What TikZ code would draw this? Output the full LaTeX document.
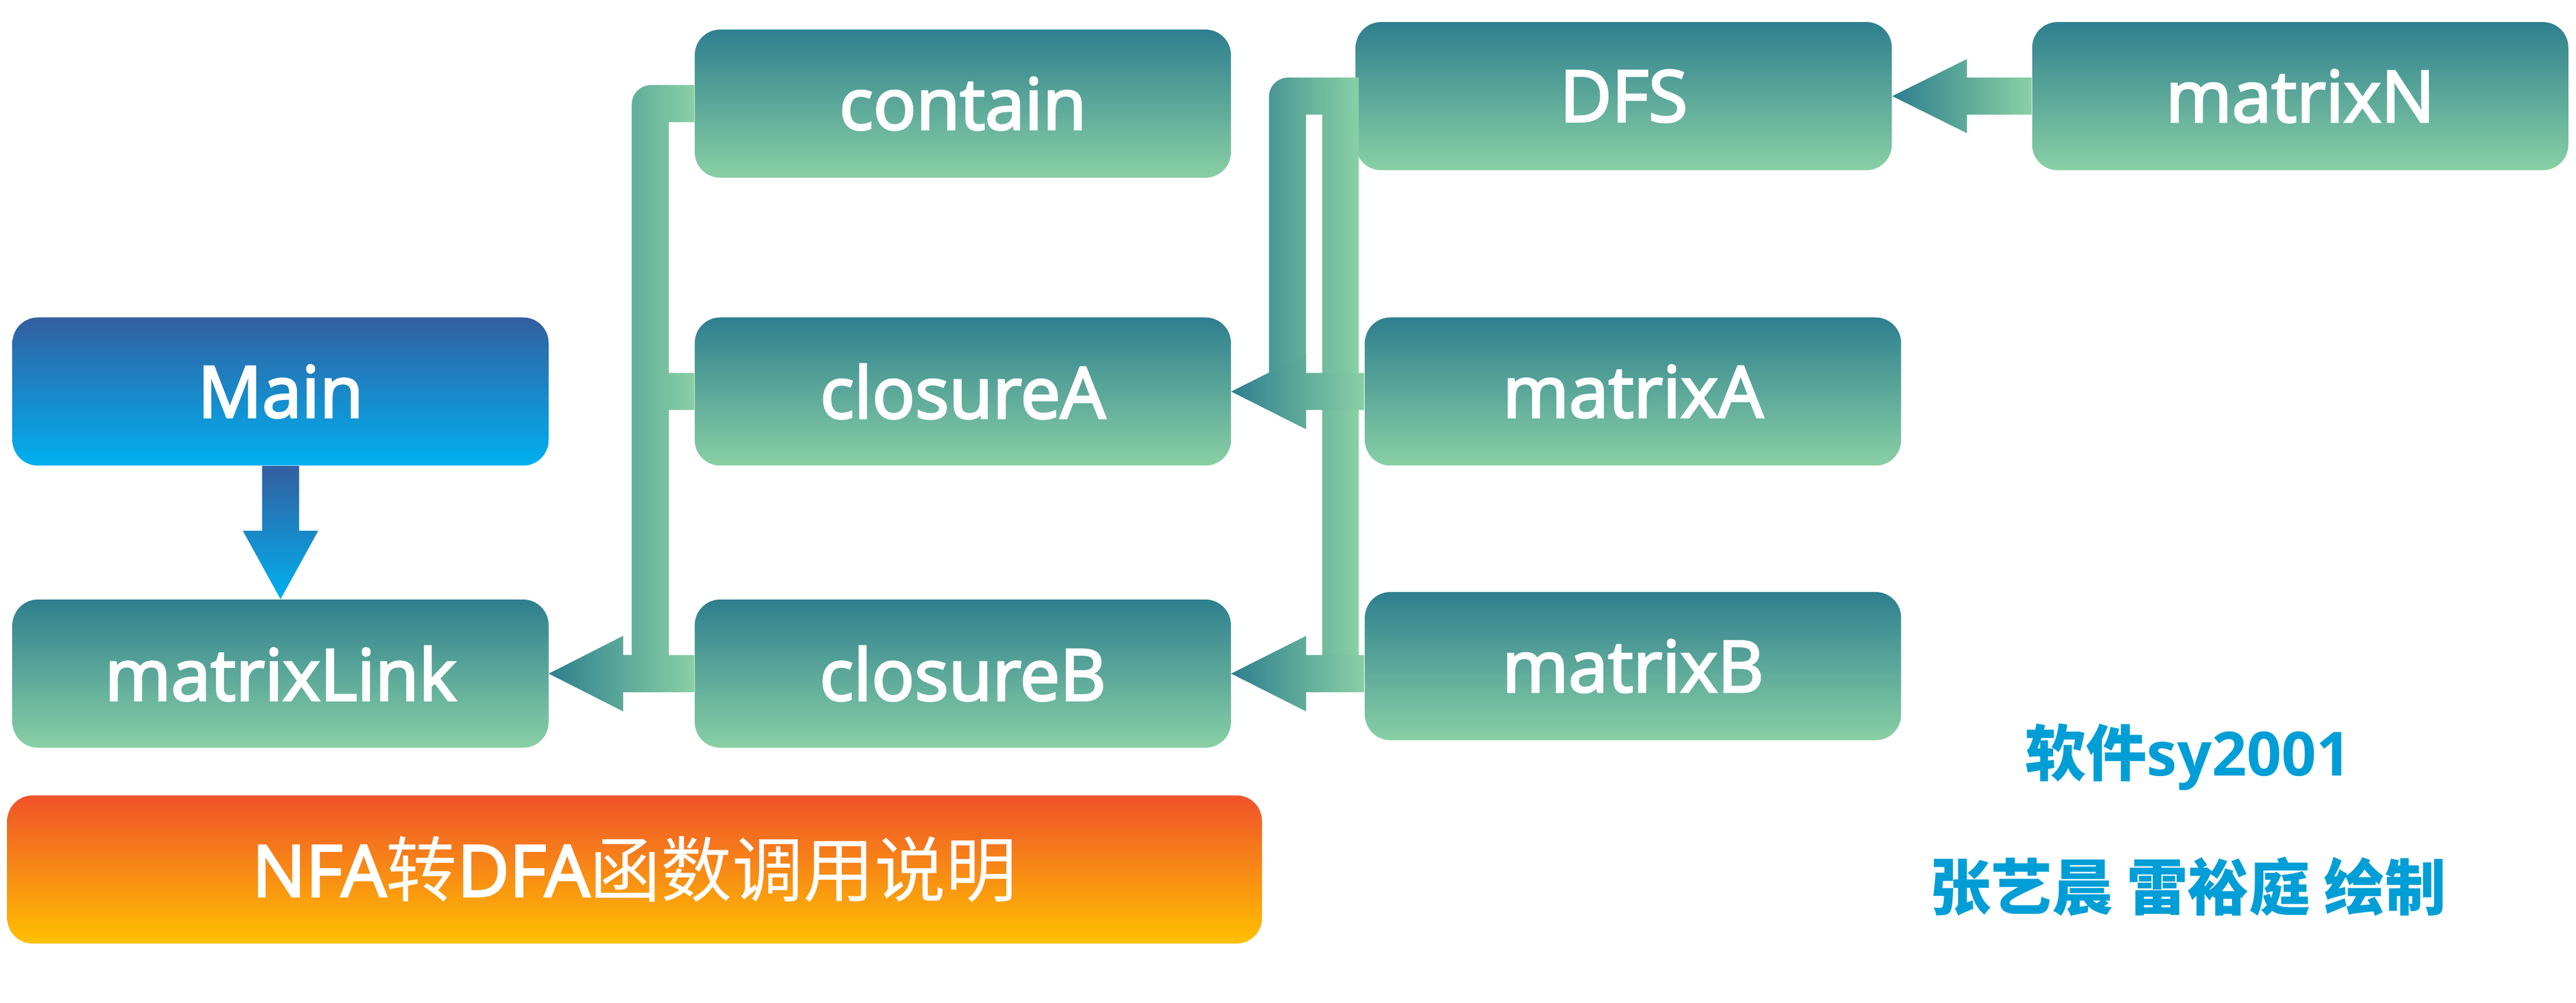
\documentclass[tikz,border=0pt]{standalone}
\usepackage{fontspec}
\setmainfont{Open Sans}
\newfontfamily\labelfont{Open Sans}[BoldFont={Open Sans}, BoldFeatures={FakeBold=3}]
\newfontfamily\cjk{Noto Sans CJK SC}
\usetikzlibrary{positioning}

\definecolor{tealtop}{RGB}{46,127,142}
\definecolor{tealbot}{RGB}{137,208,165}
\definecolor{maintop}{RGB}{51,95,160}
\definecolor{mainbot}{RGB}{0,176,240}
\definecolor{titletop}{RGB}{240,82,42}
\definecolor{titlebot}{RGB}{255,192,0}
\definecolor{creditblue}{RGB}{0,158,214}

\tikzset{
  func/.style={rectangle, rounded corners=4.4mm, minimum width=9.26cm, minimum height=2.56cm,
    inner sep=0pt, top color=tealtop, bottom color=tealbot, text=white,
    font=\labelfont\bfseries\fontsize{35}{42}\selectfont},
  mainfunc/.style={func, top color=maintop, bottom color=mainbot},
  caption/.style={func, minimum width=21.67cm, top color=titletop, bottom color=titlebot},
  credit/.style={text=creditblue, font=\fontsize{30}{36}\selectfont\bfseries},
  conn/.style={left color=tealtop, right color=tealbot}
}

\begin{document}
\begin{tikzpicture}[node distance=2.3cm]
    \fill[white] (0,0) rectangle (44.49,-17.33);
    \useasboundingbox (0,0) rectangle (44.49,-17.33);

    % functions
    \node[mainfunc] (Main) at (4.845,-6.765) {Main};
    \node[func] (matrixLink) [below=of Main] {matrixLink};
    \node[func] (closureA) [right=2.51cm of Main] {closureA};
    \node[func] (contain) [above=2.4cm of closureA] {contain};
    \node[func] (closureB) [below=of closureA] {closureB};
    \node[func] (matrixA) [right=of closureA] {matrixA};
    \node[func] (matrixB) [below=2.17cm of matrixA] {matrixB};
    \node[func] (DFS) [above=2.53cm of matrixA, xshift=-1.6mm] {DFS};
    \node[func] (matrixN) [right=2.41cm of DFS] {matrixN};

    \node[caption, anchor=north west] (title) at ([xshift=-0.9mm, yshift=-8.1mm]matrixLink.south west)
      {NFA{\cjk\mdseries 转}DFA{\cjk\mdseries 函数调用说明}};
    \node[credit] (course) at (37.79,-13.08) {{\cjk 软件}sy2001};
    \node[credit] (authors) at (37.79,-15.32) {{\cjk 张艺晨 雷裕庭 绘制}};

    % Main calls matrixLink
    \coordinate (mhead) at ([yshift=11.8mm]matrixLink.north);
    \shade[top color=maintop, bottom color=mainbot]
      ([xshift=-3.2mm]Main.south) -- ([xshift=-3.2mm]mhead) -- ([xshift=-6.5mm]mhead)
      -- (matrixLink.north) -- ([xshift=6.5mm]mhead) -- ([xshift=3.2mm]mhead)
      -- ([xshift=3.2mm]Main.south) -- cycle;

    % left bracket into matrixLink
    \coordinate (lbarL) at ([xshift=14.3mm]matrixLink.east);
    \coordinate (lbarR) at ([xshift=20.7mm]matrixLink.east);
    \coordinate (lhead) at ([xshift=12.8mm]matrixLink.east);
    \coordinate (lup) at ([yshift=3.2mm]matrixLink.east);
    \coordinate (ldown) at ([yshift=-3.2mm]matrixLink.east);
    \coordinate (cup) at ([yshift=3.2mm]contain.west);
    \coordinate (cdown) at ([yshift=-3.2mm]contain.west);
    \coordinate (aup) at ([yshift=3.2mm]closureA.west);
    \coordinate (adown) at ([yshift=-3.2mm]closureA.west);

    \shade[conn] (cup) [rounded corners=3.3mm] -- (lbarL |- cup) [sharp corners] -- (lbarL |- lup)
      -- (lhead |- lup) -- ([yshift=6.5mm]lhead) -- (matrixLink.east) -- ([yshift=-6.5mm]lhead)
      -- (lhead |- ldown) -- (lbarR |- ldown) -- (lbarR |- cdown) -- (cdown) -- cycle;
    \shade[conn] (aup) [rounded corners=3.3mm] -- (lbarL |- aup) [sharp corners] -- (lbarL |- lup)
      -- (lhead |- lup) -- ([yshift=6.5mm]lhead) -- (matrixLink.east) -- ([yshift=-6.5mm]lhead)
      -- (lhead |- ldown) -- (lbarR |- ldown) -- (lbarR |- adown) -- (adown) -- cycle;
    \shade[conn] (closureB.west |- lup) -- (lhead |- lup) -- ([yshift=6.5mm]lhead) -- (matrixLink.east)
      -- ([yshift=-6.5mm]lhead) -- (lhead |- ldown) -- (closureB.west |- ldown) -- cycle;

    % right bracket from DFS
    \coordinate (dup) at ([yshift=3.2mm]DFS.west);
    \coordinate (ddown) at ([yshift=-3.2mm]DFS.west);
    \coordinate (abar) at ([xshift=6.5mm]closureA.east);
    \coordinate (ahead) at ([xshift=12.9mm]closureA.east);
    \coordinate (raup) at ([yshift=3.2mm]closureA.east);
    \coordinate (radown) at ([yshift=-3.2mm]closureA.east);
    \coordinate (bbarL) at ([xshift=-5.7mm]DFS.west);
    \coordinate (bbarR) at ([xshift=0.6mm]DFS.west);
    \coordinate (bhead) at ([xshift=12.9mm]closureB.east);
    \coordinate (bup) at ([yshift=3.2mm]closureB.east);
    \coordinate (bdown) at ([yshift=-3.2mm]closureB.east);

    \shade[conn] (dup) [rounded corners=3.3mm] -- (abar |- dup) [sharp corners] -- (abar |- raup)
      -- (closureA.east) -- ([yshift=-6.5mm]ahead) -- (ahead |- ddown) -- (ddown) -- cycle;
    \shade[conn] (dup) [rounded corners=3.3mm] -- (bbarL |- dup) [sharp corners] -- (bbarL |- bup)
      -- (bhead |- bup) -- ([yshift=6.5mm]bhead) -- (closureB.east) -- ([yshift=-6.5mm]bhead)
      -- (bhead |- bdown) -- (bbarR |- bdown) -- (bbarR |- dup) -- cycle;
    \shade[conn] (matrixA.west |- raup) -- (ahead |- raup) -- ([yshift=6.5mm]ahead) -- (closureA.east)
      -- ([yshift=-6.5mm]ahead) -- (ahead |- radown) -- (matrixA.west |- radown) -- cycle;
    \shade[conn] (matrixB.west |- bup) -- (bhead |- bup) -- ([yshift=6.5mm]bhead) -- (closureB.east)
      -- ([yshift=-6.5mm]bhead) -- (bhead |- bdown) -- (matrixB.west |- bdown) -- cycle;

    % matrixN calls DFS
    \coordinate (nhead) at ([xshift=12.9mm]DFS.east);
    \coordinate (nup) at ([yshift=3.2mm]DFS.east);
    \coordinate (ndown) at ([yshift=-3.2mm]DFS.east);
    \shade[conn] (matrixN.west |- nup) -- (nhead |- nup) -- ([yshift=6.4mm]nhead) -- (DFS.east)
      -- ([yshift=-6.4mm]nhead) -- (nhead |- ndown) -- (matrixN.west |- ndown) -- cycle;
\end{tikzpicture}
\end{document}
